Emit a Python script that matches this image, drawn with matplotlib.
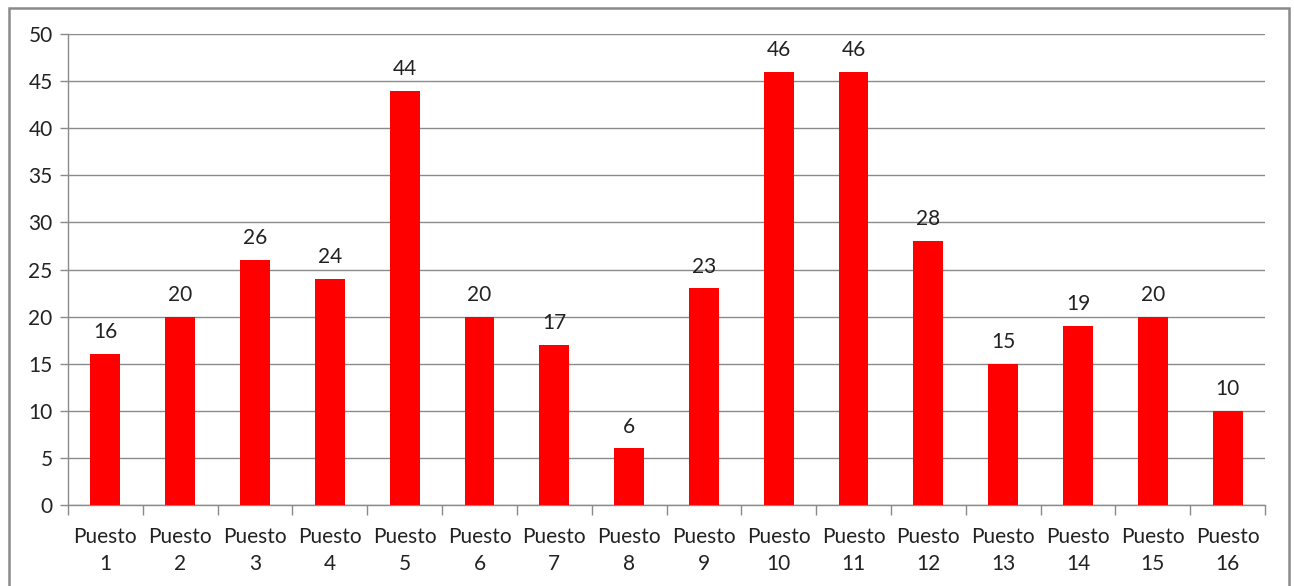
import matplotlib
matplotlib.use("Agg")
import matplotlib.pyplot as plt
from matplotlib.patches import Rectangle
import numpy as np

plt.rcParams['font.family'] = ['Lato', 'DejaVu Sans']

categories = [f"Puesto\n{i}" for i in range(1, 17)]
values = [16, 20, 26, 24, 44, 20, 17, 6, 23, 46, 46, 28, 15, 19, 20, 10]
y_ticks = [0, 5, 10, 15, 20, 25, 30, 35, 40, 45, 50]

W, H, DPI = 1294, 586, 100
FS = 15
fig = plt.figure(figsize=(W / DPI, H / DPI), dpi=DPI)
fig.patch.set_facecolor("white")

# outer chart frame
fig.add_artist(Rectangle((9 / W, -0.05), (1289 - 9) / W, 1.05 - 8 / H,
                         transform=fig.transFigure, fill=False,
                         edgecolor="#8a8a8a", linewidth=1.8))

ax = fig.add_axes([68 / W, 1 - 505 / H, (1265 - 68) / W, (505 - 34) / H])
x = np.arange(len(values))
ax.bar(x, values, width=0.4, color="#ff0000", zorder=3)

for xi, v in zip(x, values):
    ax.annotate(str(v), (xi, v), xytext=(0, 8.5), textcoords="offset points",
                ha="center", va="bottom", fontsize=FS, color="#222222")

ax.set_xlim(-0.5, len(values) - 0.5)
ax.set_ylim(0, 50)
ax.set_yticks(y_ticks)
ax.tick_params(axis="y", length=6, width=1, color="#8a8a8a", pad=5,
               labelsize=FS, labelcolor="#222222")

ax.set_xticks(x)
ax.set_xticklabels(categories, linespacing=1.4)
ax.tick_params(axis="x", which="major", length=0, pad=16,
               labelsize=FS, labelcolor="#222222")
ax.set_xticks(np.arange(-0.5, len(values), 1.0), minor=True)
ax.tick_params(axis="x", which="minor", length=7, width=1, color="#8a8a8a")

ax.grid(axis="y", color="#8a8a8a", linewidth=1, zorder=0)
for side in ("top", "right"):
    ax.spines[side].set_visible(False)
for side in ("left", "bottom"):
    ax.spines[side].set_color("#8a8a8a")
    ax.spines[side].set_linewidth(1)

fig.savefig("out.png", dpi=DPI, facecolor="white")
